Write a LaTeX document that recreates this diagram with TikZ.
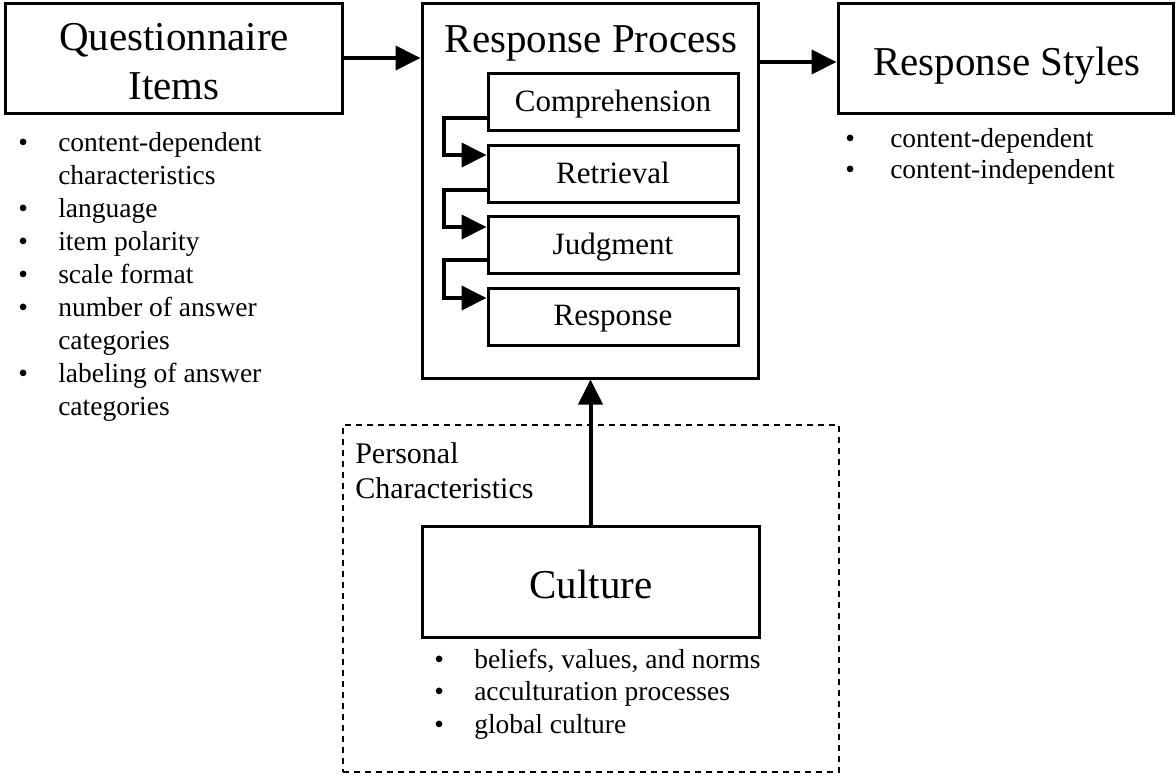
\documentclass[tikz,border=0pt]{standalone}
\usepackage{fontspec}
\setmainfont{Liberation Serif}
\usetikzlibrary{arrows.meta,calc}

% bullet column width and helpers for the bullet lists
\newlength\bulw
\newcommand{\bul}{\makebox[\bulw][l]{\textbullet}}
\newcommand{\ind}{\hspace*{\bulw}}

\tikzset{
  box/.style={draw, line width=2.25pt, inner sep=0pt},
  subbox/.style={draw, line width=2.25pt, inner sep=0pt,
    minimum width=187.5pt, minimum height=42.75pt,
    text height=13.5pt, text depth=0pt,
    font=\fontsize{23.25}{28}\selectfont},
  dashbox/.style={draw, line width=1.1pt, dash pattern=on 4.5pt off 3.75pt, inner sep=0pt},
  flow/.style={line width=3pt, -{Triangle[length=18.75pt,width=18pt]}},
  title/.style={inner sep=0pt, anchor=base, font=\fontsize{30.75}{36.75}\selectfont},
  list/.style={inner sep=0pt, anchor=base west},
}

\begin{document}
\begin{tikzpicture}[x=0.75pt,y=-0.75pt]
\useasboundingbox (0,0) rectangle (1176,776);

% main boxes
\node[box, minimum width=252.75pt, minimum height=82.5pt] (qi) at (173.5,58) {};
\node[box, minimum width=252pt, minimum height=281.25pt] (rp) at (590,190.5) {};
\node[box, minimum width=251.25pt, minimum height=82.5pt] (rs) at (1005.5,58) {};
\node[dashbox, minimum width=372pt, minimum height=260.25pt] (pc) at (591,598.5) {};
\node[box, minimum width=252.75pt, minimum height=83.25pt] (cul) at (590.5,581.5) {};

% titles
\node[title] (qit) at (174,50) {\begin{tabular}[t]{@{}c@{}}Questionnaire\\Items\end{tabular}};
\node[title] (rpt) at (591,52) {Response Process};
\node[title] (rst) at (1007,75) {Response Styles};
\node[title] (cult) at (591,598) {Culture};
\node[list, font=\fontsize{22.5}{26.25}\selectfont] (pct) at (355,463)
  {\begin{tabular}[t]{@{}l@{}}Personal\\Characteristics\end{tabular}};

% stages of the response process
\node[subbox] (comp) at (613,102) {Comprehension};
\node[subbox] (ret) at (613,174) {Retrieval};
\node[subbox] (jud) at (613,245) {Judgment};
\node[subbox] (resp) at (613,316.5) {Response};

% bullet lists
\node[list, font=\fontsize{20.625}{24.75}\selectfont] (qil) at (18,151)
  {\setlength\bulw{30pt}\begin{tabular}[t]{@{}l@{}}
   \bul content-dependent\\ \ind characteristics\\
   \bul language\\ \bul item polarity\\ \bul scale format\\
   \bul number of answer\\ \ind categories\\
   \bul labeling of answer\\ \ind categories
   \end{tabular}};
\node[list, font=\fontsize{20.625}{23.25}\selectfont] (rsl) at (845,147)
  {\setlength\bulw{33.75pt}\begin{tabular}[t]{@{}l@{}}
   \bul content-dependent\\ \bul content-independent
   \end{tabular}};
\node[list, font=\fontsize{20.625}{24.4}\selectfont] (cull) at (434,668)
  {\setlength\bulw{30pt}\begin{tabular}[t]{@{}l@{}}
   \bul beliefs, values, and norms\\ \bul acculturation processes\\ \bul global culture
   \end{tabular}};

% connectors between the main boxes
\draw[flow] (qi.east) -- (qi.east -| rp.west);
\draw[flow] ($(rs.west -| rp.east)+(0,4)$) -- ($(rs.west)+(0,4)$);
\draw[flow] (cul.north) -- (cul.north |- rp.south);

% connectors between the stages
\draw[flow] ($(comp.west)+(0,16)$) -- ++(-43,0) |- ($(ret.west)+(0,-19)$);
\draw[flow] ($(ret.west)+(0,16)$) -- ++(-43,0) |- ($(jud.west)+(0,-18)$);
\draw[flow] ($(jud.west)+(0,15)$) -- ++(-43,0) |- ($(resp.west)+(0,-18.5)$);
\end{tikzpicture}
\end{document}
